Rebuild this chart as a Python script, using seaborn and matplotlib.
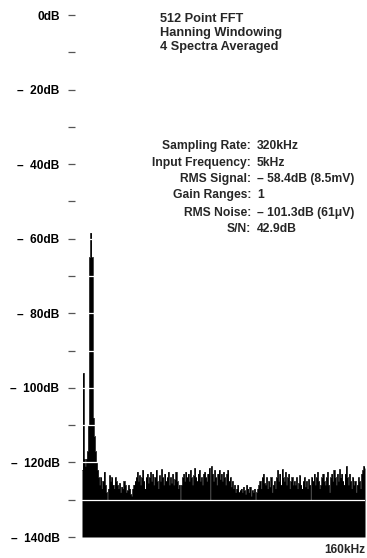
import numpy as np
import matplotlib
matplotlib.use("Agg")
import matplotlib.pyplot as plt
import seaborn as sns

# Measurement settings
sampling_rate_khz = 320.0
fft_points = 512

# Spectrum levels (dB) per FFT bin, 0 .. 160 kHz
signal_region_db = [
    -122, -96, -119, -121, -119, -117, -110, -65,
    -58.4, -65, -108, -113, -117, -120, -122, -124,
]
noise_floor_db = [
    # bins 16-31
    -126, -124, -127, -125, -122.5, -126, -128, -130,
    -127, -123.5, -125, -124, -126, -127, -124, -125,
    # bins 32-47
    -126, -127, -125.5, -128, -126.5, -127, -125, -126,
    -128, -127.5, -126, -127, -128.5, -129, -127, -126,
    # bins 48-63
    -125, -124, -122.5, -125, -123.5, -126, -124, -122,
    -125, -127, -124, -123, -125.5, -124, -122.5, -125,
    # bins 64-79
    -123, -126, -124, -122, -125, -127, -123.5, -125,
    -121.8, -124, -126, -123, -125, -124, -122.5, -126,
    # bins 80-95
    -124, -125.5, -123, -126, -124.5, -122.5, -125, -127,
    -126, -130, -126, -124, -123, -125, -122.5, -124,
    # bins 96-111
    -123, -125, -122, -124, -126, -123.5, -121.5, -124,
    -125, -123, -122, -125, -124, -126, -123, -122.5,
    # bins 112-127
    -124, -125, -123, -121.5, -130, -121, -123, -125,
    -122, -124, -126, -123, -122, -124.5, -123, -125,
    # bins 128-143
    -122.5, -124, -126, -123, -122, -125, -124, -126.5,
    -125, -127, -126, -128, -127, -126, -128, -127.5,
    # bins 144-159
    -127, -128, -126.5, -127.5, -128.5, -126, -127, -128,
    -126.5, -129, -127.5, -128, -127, -130, -128, -127,
    # bins 160-175
    -126, -125, -127, -124, -123, -125.5, -126, -124,
    -127, -125, -126.5, -124, -128, -126, -125, -127,
    # bins 176-191
    -124, -122, -125, -123, -126, -121.8, -124, -125,
    -122.5, -126, -124, -123, -127, -125, -124, -126,
    # bins 192-207
    -125, -126, -124, -127, -125.5, -123.5, -126, -127,
    -125, -124, -126.5, -125, -127, -124.5, -126, -130,
    # bins 208-223
    -124, -125, -123, -126, -124, -122.5, -125, -127,
    -126, -124, -123, -125, -126, -124, -122.5, -126,
    # bins 224-239
    -128, -124, -123, -125, -122, -124, -126, -123,
    -125, -121.8, -124, -123, -125, -126, -123, -121,
    # bins 240-256
    -124, -126, -123, -125, -127, -124, -126, -125,
    -128, -126, -124, -125, -127, -123, -122, -121,
    -121.5,
]

major_ticks_db = [0, -20, -40, -60, -80, -100, -120, -140]
minor_ticks_db = [-10, -30, -50, -70, -90, -110, -130]
major_tick_labels = ["0dB", "\u2013  20dB", "\u2013  40dB", "\u2013  60dB",
                     "\u2013  80dB", "\u2013  100dB", "\u2013  120dB", "\u2013  140dB"]
x_tick_khz = [160]
x_tick_labels = ["160kHz"]

header_lines = ["512 Point FFT", "Hanning Windowing", "4 Spectra Averaged"]
info_labels = ["Sampling Rate:", "Input Frequency:", "RMS Signal:",
               "Gain Ranges:", "RMS Noise:", "S/N:"]
info_values = ["320kHz", "5kHz", "\u2013 58.4dB (8.5mV)", "1",
               "\u2013 101.3dB (61\u03bcV)", "42.9dB"]

level_db = np.array(signal_region_db + noise_floor_db, dtype=float)
freq_khz = np.arange(len(level_db)) * sampling_rate_khz / fft_points

sns.set_theme(style="white")
plt.rcParams["font.family"] = ["Liberation Sans", "DejaVu Sans"]
plt.rcParams["font.weight"] = "bold"

fig = plt.figure(figsize=(3.67, 5.58), dpi=100)
ax = fig.add_axes([82 / 367, 1 - 537 / 558, 283 / 367, 522 / 558])

# Spectrum drawn as a solid stepped fill from the bottom of the scale
ax.fill_between(freq_khz, -140, level_db, step="mid", color="black",
                linewidth=0, zorder=1)
sns.lineplot(x=freq_khz, y=level_db, drawstyle="steps-mid", color="black",
             linewidth=0.5, ax=ax, zorder=1.5)

# White level lines cut through the filled spectrum
for lvl in minor_ticks_db + major_ticks_db[1:-1]:
    ax.axhline(lvl, color="white", linewidth=0.9, zorder=3)

ax.set_xlim(0, 160)
ax.set_ylim(-140, 0)
for side in ["top", "right", "bottom", "left"]:
    ax.spines[side].set_visible(False)
ax.spines["left"].set_position(("outward", 5))

ax.set_yticks(major_ticks_db)
ax.set_yticklabels(major_tick_labels)
ax.set_yticks(minor_ticks_db, minor=True)
ax.tick_params(axis="y", which="both", left=True, direction="out",
               length=5.2, width=0.9, color="#555555", pad=6)
ax.tick_params(axis="y", which="major", labelsize=8.6, labelcolor="black")

ax.set_xticks(x_tick_khz)
ax.set_xticklabels(x_tick_labels, fontsize=8.6, fontweight="bold")
ax.tick_params(axis="x", bottom=False, length=0, pad=5)
for lab in ax.get_xticklabels():
    lab.set_horizontalalignment("right")

ax.set_xlabel("")
ax.set_ylabel("")

# Annotation blocks
header_y = [-1.0, -4.8, -8.5]
for txt, yy in zip(header_lines, header_y):
    ax.text(44.1, yy, txt, ha="left", va="center", fontsize=9.2,
            fontweight="bold", clip_on=False)

info_y = [-35.2, -39.6, -43.9, -48.4, -53.0, -57.3]
for lab, val, yy in zip(info_labels, info_values, info_y):
    ax.text(95.5, yy, lab, ha="right", va="center", fontsize=8.7,
            fontweight="bold", clip_on=False)
    ax.text(98.9, yy, val, ha="left", va="center", fontsize=8.7,
            fontweight="bold", clip_on=False)

fig.savefig("out.png", dpi=100, facecolor="white")
